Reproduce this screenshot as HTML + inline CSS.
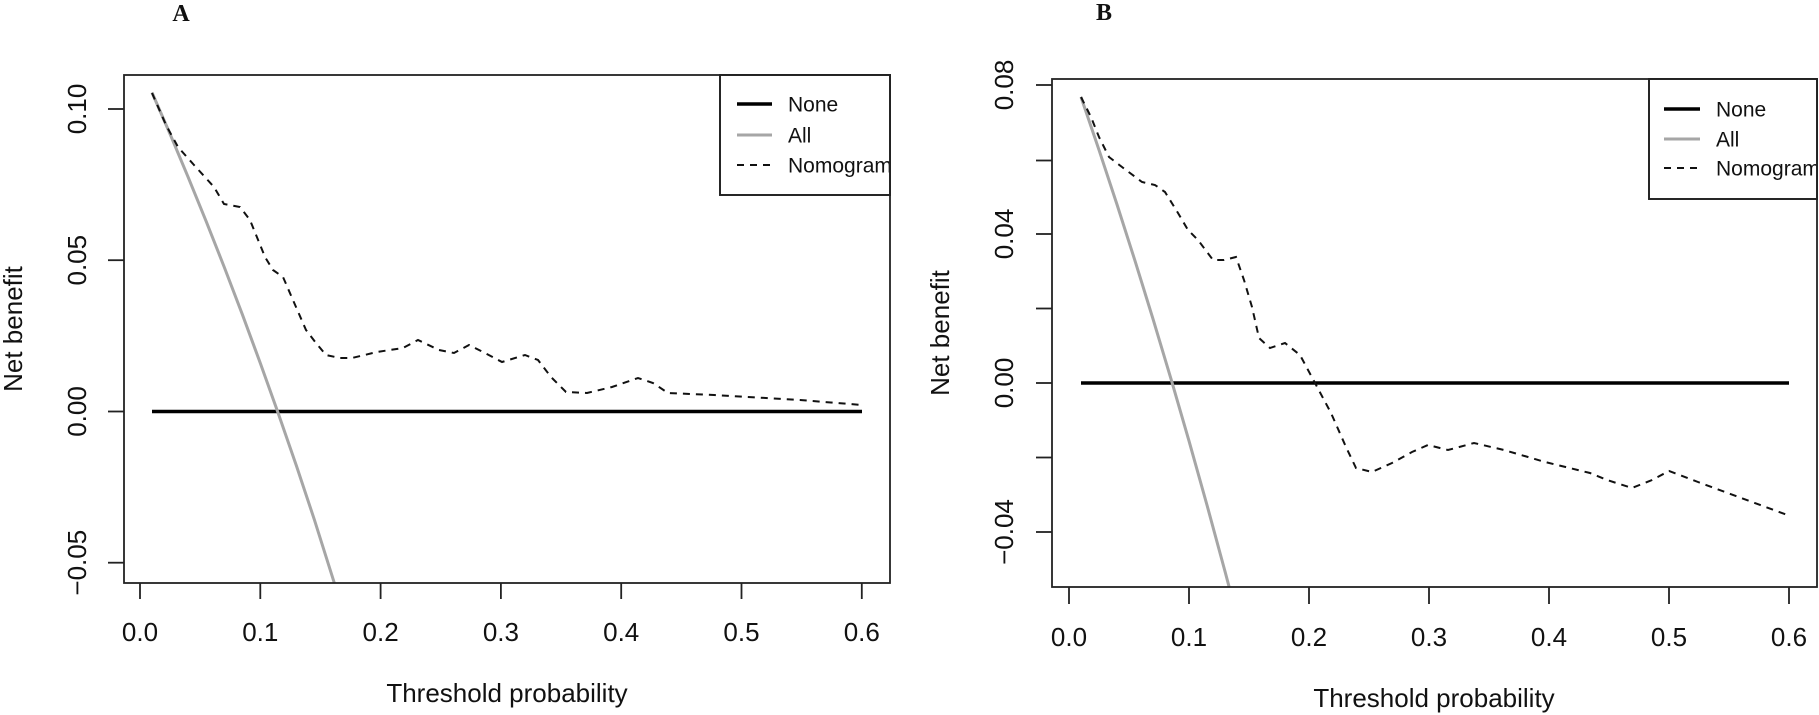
<!DOCTYPE html>
<html>
<head>
<meta charset="utf-8">
<style>
  html, body { margin:0; padding:0; background:#fff; }
  svg { display:block; }
  text { font-family: "Liberation Sans", Arial, sans-serif; fill:#111; }
  .ttl { font-family: "Liberation Serif", "Times New Roman", serif; font-weight:bold; font-size:24px; }
  .tk { font-size:26px; }
  .lab { font-size:26px; }
  .leg { font-size:21px; }
</style>
</head>
<body>
<svg width="1819" height="715" viewBox="0 0 1819 715" xmlns="http://www.w3.org/2000/svg">
  <defs>
    <clipPath id="clipA"><rect x="124" y="75" width="766" height="508"/></clipPath>
    <clipPath id="clipB"><rect x="1052" y="79" width="765" height="508"/></clipPath>
    <clipPath id="legAclip"><rect x="720" y="75" width="170" height="120"/></clipPath>
    <clipPath id="legBclip"><rect x="1649" y="79" width="168" height="120"/></clipPath>
  </defs>

  <!-- ================= PANEL A ================= -->
  <text class="ttl" x="181" y="21" text-anchor="middle">A</text>

  <!-- series A -->
  <g clip-path="url(#clipA)" fill="none">
    <line x1="152" y1="411.5" x2="862" y2="411.5" stroke="#000" stroke-width="3.6"/>
    <polyline stroke="#a6a6a6" stroke-width="3" points="152,92.5 170.1,134.1 188.1,177.1 206.2,221.4 224.2,267 242.3,314.3 260.3,363.1 278.3,413.5 296.4,465.8 314.4,519.8 334.3,582.9 344.5,615.4"/>
    <polyline stroke="#111" stroke-width="2" stroke-dasharray="7,6" points="152,93 166,125 178,147 194,165 214,187 224,204 240,207 250,220 265,257 273,270 283,277 296,307 306,330 316,343 326,355 340,358 352,358 377,352 403,348 418,340 439,350 454,353 469,345 485,353 502,362 525,355 538,360 551,377 566,392 587,393 612,387 638,378 653,383 668,393 714,395 800,400 862,405"/>
  </g>

  <!-- box A -->
  <rect x="124" y="75" width="766" height="508" fill="none" stroke="#222" stroke-width="1.8"/>

  <!-- y axis A -->
  <g stroke="#222" stroke-width="1.8">
    <line x1="108" y1="109" x2="124" y2="109"/>
    <line x1="108" y1="260.2" x2="124" y2="260.2"/>
    <line x1="108" y1="411.5" x2="124" y2="411.5"/>
    <line x1="108" y1="562.7" x2="124" y2="562.7"/>
  </g>
  <text class="tk" transform="translate(86,109) rotate(-90)" text-anchor="middle">0.10</text>
  <text class="tk" transform="translate(86,260.2) rotate(-90)" text-anchor="middle">0.05</text>
  <text class="tk" transform="translate(86,411.5) rotate(-90)" text-anchor="middle">0.00</text>
  <text class="tk" transform="translate(86,562.7) rotate(-90)" text-anchor="middle">−0.05</text>

  <!-- x axis A -->
  <g stroke="#222" stroke-width="1.8">
    <line x1="140" y1="583" x2="140" y2="599"/>
    <line x1="260.3" y1="583" x2="260.3" y2="599"/>
    <line x1="380.6" y1="583" x2="380.6" y2="599"/>
    <line x1="500.9" y1="583" x2="500.9" y2="599"/>
    <line x1="621.2" y1="583" x2="621.2" y2="599"/>
    <line x1="741.5" y1="583" x2="741.5" y2="599"/>
    <line x1="861.8" y1="583" x2="861.8" y2="599"/>
  </g>
  <g class="tk" text-anchor="middle">
    <text class="tk" x="140" y="641" text-anchor="middle">0.0</text>
    <text class="tk" x="260.3" y="641" text-anchor="middle">0.1</text>
    <text class="tk" x="380.6" y="641" text-anchor="middle">0.2</text>
    <text class="tk" x="500.9" y="641" text-anchor="middle">0.3</text>
    <text class="tk" x="621.2" y="641" text-anchor="middle">0.4</text>
    <text class="tk" x="741.5" y="641" text-anchor="middle">0.5</text>
    <text class="tk" x="861.8" y="641" text-anchor="middle">0.6</text>
  </g>

  <text class="lab" x="507" y="702" text-anchor="middle">Threshold probability</text>
  <text class="lab" transform="translate(22,329) rotate(-90)" text-anchor="middle">Net benefit</text>

  <!-- legend A -->
  <rect x="720" y="75" width="170" height="120" fill="#fff" stroke="#222" stroke-width="1.8"/>
  <g clip-path="url(#legAclip)">
    <line x1="737" y1="104" x2="772" y2="104" stroke="#000" stroke-width="3.6"/>
    <line x1="737" y1="135" x2="772" y2="135" stroke="#a6a6a6" stroke-width="3"/>
    <line x1="737" y1="165" x2="773" y2="165" stroke="#111" stroke-width="2" stroke-dasharray="7,6"/>
    <text class="leg" x="788" y="111.5">None</text>
    <text class="leg" x="788" y="142.5">All</text>
    <text class="leg" x="788" y="172.5">Nomogram</text>
  </g>
  <rect x="720" y="75" width="170" height="120" fill="none" stroke="#222" stroke-width="1.8"/>

  <!-- ================= PANEL B ================= -->
  <text class="ttl" x="1104" y="20" text-anchor="middle">B</text>

  <g clip-path="url(#clipB)" fill="none">
    <line x1="1081" y1="383" x2="1789" y2="383" stroke="#000" stroke-width="3.6"/>
    <polyline stroke="#a6a6a6" stroke-width="3" points="1081,97 1099,149.95 1117,204.5 1135,260.8 1153,318.9 1171,378.9 1189,440.9 1207,505.1 1225,571.4 1231,594"/>
    <polyline stroke="#111" stroke-width="2" stroke-dasharray="7,6" points="1081,97 1091,117 1099,137 1109,157 1122,167 1142,182 1155,185 1165,192 1178,213 1188,230 1198,240 1213,260 1224,260 1236,257 1244,280 1252,307 1259,338 1270,348 1285,343 1300,355 1315,383 1331,413 1346,447 1356,468 1372,472 1392,463 1412,452 1428,445 1448,450 1474,443 1504,450 1545,462 1590,473 1607,480 1632,488 1652,480 1669,471 1698,482 1790,516"/>
  </g>

  <rect x="1052" y="79" width="765" height="508" fill="none" stroke="#222" stroke-width="1.8"/>

  <!-- y axis B -->
  <g stroke="#222" stroke-width="1.8">
    <line x1="1036" y1="85" x2="1052" y2="85"/>
    <line x1="1036" y1="160.5" x2="1052" y2="160.5"/>
    <line x1="1036" y1="234" x2="1052" y2="234"/>
    <line x1="1036" y1="308.5" x2="1052" y2="308.5"/>
    <line x1="1036" y1="383" x2="1052" y2="383"/>
    <line x1="1036" y1="457.5" x2="1052" y2="457.5"/>
    <line x1="1036" y1="532" x2="1052" y2="532"/>
  </g>
  <text class="tk" transform="translate(1013,85) rotate(-90)" text-anchor="middle">0.08</text>
  <text class="tk" transform="translate(1013,234) rotate(-90)" text-anchor="middle">0.04</text>
  <text class="tk" transform="translate(1013,383) rotate(-90)" text-anchor="middle">0.00</text>
  <text class="tk" transform="translate(1013,532) rotate(-90)" text-anchor="middle">−0.04</text>

  <!-- x axis B -->
  <g stroke="#222" stroke-width="1.8">
    <line x1="1069" y1="587" x2="1069" y2="604"/>
    <line x1="1189" y1="587" x2="1189" y2="604"/>
    <line x1="1309" y1="587" x2="1309" y2="604"/>
    <line x1="1429" y1="587" x2="1429" y2="604"/>
    <line x1="1549" y1="587" x2="1549" y2="604"/>
    <line x1="1669" y1="587" x2="1669" y2="604"/>
    <line x1="1789" y1="587" x2="1789" y2="604"/>
  </g>
  <text class="tk" x="1069" y="646" text-anchor="middle">0.0</text>
  <text class="tk" x="1189" y="646" text-anchor="middle">0.1</text>
  <text class="tk" x="1309" y="646" text-anchor="middle">0.2</text>
  <text class="tk" x="1429" y="646" text-anchor="middle">0.3</text>
  <text class="tk" x="1549" y="646" text-anchor="middle">0.4</text>
  <text class="tk" x="1669" y="646" text-anchor="middle">0.5</text>
  <text class="tk" x="1789" y="646" text-anchor="middle">0.6</text>

  <text class="lab" x="1434" y="707" text-anchor="middle">Threshold probability</text>
  <text class="lab" transform="translate(949,333) rotate(-90)" text-anchor="middle">Net benefit</text>

  <!-- legend B -->
  <rect x="1649" y="79" width="168" height="120" fill="#fff" stroke="#222" stroke-width="1.8"/>
  <g clip-path="url(#legBclip)">
    <line x1="1664" y1="109" x2="1700" y2="109" stroke="#000" stroke-width="3.6"/>
    <line x1="1664" y1="139" x2="1700" y2="139" stroke="#a6a6a6" stroke-width="3"/>
    <line x1="1664" y1="168" x2="1701" y2="168" stroke="#111" stroke-width="2" stroke-dasharray="7,6"/>
    <text class="leg" x="1716" y="116.5">None</text>
    <text class="leg" x="1716" y="146.5">All</text>
    <text class="leg" x="1716" y="175.5">Nomogram</text>
  </g>
  <rect x="1649" y="79" width="168" height="120" fill="none" stroke="#222" stroke-width="1.8"/>
</svg>
</body>
</html>
